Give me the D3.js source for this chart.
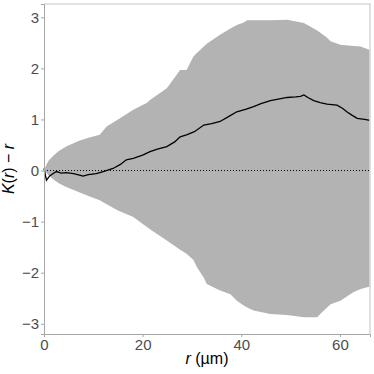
<!DOCTYPE html>
<html>
<head>
<meta charset="utf-8">
<script src="https://cdn.jsdelivr.net/npm/d3@7"></script>
<style>
  body { margin: 0; background: #fff; }
  text { font-family: "Liberation Sans", Arial, sans-serif; }
</style>
</head>
<body>
<svg id="kplot"></svg>
<script>
// envelope (simulation band)
var rEnv = [0, 0.5, 1, 2, 3, 4.5, 7, 9, 11.3, 12.7, 15, 18.1, 20.8, 21.5, 24.9, 27.6, 28.9, 30.3, 31, 32.4, 33, 35.7, 37.8, 39.1, 40.5, 41.2, 42.5, 45.9, 49.3, 52.7, 55.4, 56.1, 57.4, 58.1, 60.1, 62.8, 64.2, 66.1];
var upper = [0, 0.12, 0.2, 0.3, 0.38, 0.47, 0.58, 0.64, 0.70, 0.86, 1.0, 1.19, 1.32, 1.38, 1.61, 1.97, 1.97, 2.23, 2.3, 2.43, 2.48, 2.66, 2.78, 2.85, 2.9, 2.94, 2.94, 2.94, 2.95, 2.89, 2.74, 2.69, 2.6, 2.53, 2.46, 2.44, 2.43, 2.36];
var lower = [0, -0.05, -0.1, -0.18, -0.25, -0.32, -0.42, -0.5, -0.58, -0.66, -0.78, -0.91, -1.1, -1.15, -1.37, -1.55, -1.63, -1.75, -1.89, -2.1, -2.22, -2.35, -2.42, -2.55, -2.64, -2.68, -2.74, -2.81, -2.83, -2.87, -2.87, -2.8, -2.68, -2.62, -2.55, -2.38, -2.32, -2.27];

// observed K(r) - r
var rObs = [0, 0.5, 1.2, 2.5, 3.5, 4.5, 6, 7.2, 7.9, 9, 10.6, 12, 14, 15.5, 16.7, 18.1, 20, 21.5, 23, 24.9, 26.5, 27.6, 28.9, 30.5, 32.4, 34, 35.7, 37.5, 39.1, 41, 42.5, 44, 45.9, 47.5, 49.3, 51, 52, 52.7, 53.5, 54.7, 56, 57.4, 59.4, 60.5, 61.4, 62.5, 63.5, 65, 66.1];
var kObs = [0.04, -0.19, -0.1, -0.02, -0.05, -0.04, -0.06, -0.09, -0.11, -0.08, -0.06, -0.02, 0.04, 0.12, 0.21, 0.24, 0.3, 0.37, 0.42, 0.47, 0.56, 0.66, 0.70, 0.76, 0.89, 0.92, 0.96, 1.06, 1.15, 1.2, 1.25, 1.31, 1.37, 1.4, 1.43, 1.44, 1.45, 1.48, 1.43, 1.37, 1.33, 1.30, 1.28, 1.22, 1.15, 1.08, 1.02, 1.0, 0.98];

var yTicks = [-3, -2, -1, 0, 1, 2, 3];
var xTicks = [0, 20, 40, 60];

var margin = {top: 4, right: 4, bottom: 40, left: 44};
var W = 374, H = 374;
var width = W - margin.left - margin.right;
var height = H - margin.top - margin.bottom;

var svg = d3.select("svg#kplot")
    .attr("width", W)
    .attr("height", H)
    .append("g")
    .attr("transform", "translate(" + margin.left + "," + margin.top + ")");

var xScale = d3.scaleLinear().domain([0, 66.1]).range([0, width]);
var yScale = d3.scaleLinear().domain([-3.2, 3.26]).range([height, 0]);

// band
var band = d3.area()
    .x(function(d, i) { return xScale(rEnv[i]); })
    .y0(function(d, i) { return yScale(lower[i]); })
    .y1(function(d, i) { return yScale(upper[i]); });

svg.append("path")
    .datum(rEnv)
    .attr("d", band)
    .style("fill", "#b3b3b3");

// zero reference
svg.append("line")
    .attr("x1", 0).attr("x2", width)
    .attr("y1", yScale(0)).attr("y2", yScale(0))
    .style("stroke", "#000")
    .style("stroke-width", 1)
    .style("stroke-dasharray", "1,2");

// observed
var line = d3.line()
    .x(function(d, i) { return xScale(rObs[i]); })
    .y(function(d) { return yScale(d); });

svg.append("path")
    .datum(kObs)
    .attr("d", line)
    .style("fill", "none")
    .style("stroke", "#000")
    .style("stroke-width", 1.3);

// panel border top/right
svg.append("path")
    .attr("d", "M0,0H" + width + "V" + height)
    .style("fill", "none")
    .style("stroke", "#d9d9d9")
    .style("stroke-width", 1.6);

var xAxis = svg.append("g")
    .attr("transform", "translate(0," + height + ")")
    .call(d3.axisBottom(xScale).tickValues(xTicks).tickSize(3).tickPadding(2));

var yAxis = svg.append("g")
    .call(d3.axisLeft(yScale).tickValues(yTicks).tickSize(3).tickPadding(2)
        .tickFormat(function(d) { return d < 0 ? "\u2212" + Math.abs(d) : d; }));

[xAxis, yAxis].forEach(function(a) {
    a.select(".domain").style("stroke", "#a6a6a6");
    a.selectAll(".tick line").style("stroke", "#a6a6a6");
    a.selectAll(".tick text")
        .style("fill", "#4d4d4d")
        .style("font-size", "15px")
        .style("font-family", "'Liberation Sans', Arial, sans-serif");
});

// axis titles
var xt = svg.append("text")
    .attr("x", width / 2)
    .attr("y", height + 30)
    .attr("text-anchor", "middle")
    .style("font-size", "16px");
xt.append("tspan").style("font-style", "italic").text("r");
xt.append("tspan").text(" (\u00b5m)");

var yt = svg.append("text")
    .attr("transform", "translate(" + (-30) + "," + (height / 2) + ") rotate(-90)")
    .attr("text-anchor", "middle")
    .style("font-size", "16px");
yt.append("tspan").style("font-style", "italic").text("K");
yt.append("tspan").text("(");
yt.append("tspan").style("font-style", "italic").text("r");
yt.append("tspan").text(") \u2212 ");
yt.append("tspan").style("font-style", "italic").text("r");
</script>
</body>
</html>
